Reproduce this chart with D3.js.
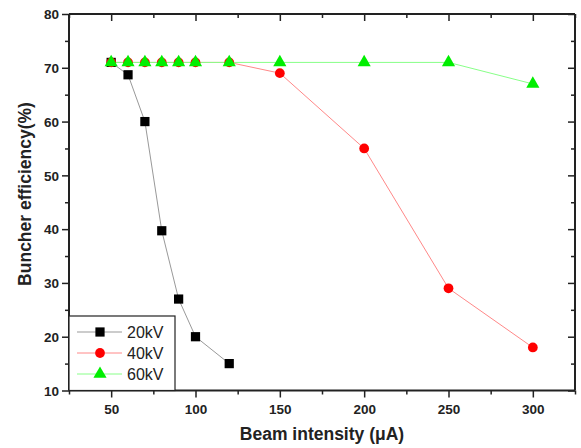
<!DOCTYPE html>
<html>
<head>
<meta charset="utf-8">
<script src="https://cdn.jsdelivr.net/npm/d3@7"></script>
<style>
body { margin:0; background:#fff; }
svg { font-family: Arial, "Liberation Sans", sans-serif; }
</style>
</head>
<body>
<svg id="chart" width="581" height="448"></svg>
<script>
// data
var xs20 = [50, 60, 70, 80, 90, 100, 120];
var ys20 = [71, 68.7, 60, 39.7, 27, 20, 15];
var xs40 = [50, 60, 70, 80, 90, 100, 120, 150, 200, 250, 300];
var ys40 = [71, 71, 71, 71, 71, 71, 71, 69, 55, 29, 18];
var xs60 = [50, 60, 70, 80, 90, 100, 120, 150, 200, 250, 300];
var ys60 = [71, 71, 71, 71, 71, 71, 71, 71, 71, 71, 67];
var seriesNames = ["20kV", "40kV", "60kV"];
var xTicks = [50, 100, 150, 200, 250, 300];
var yTicks = [10, 20, 30, 40, 50, 60, 70, 80];

var svg = d3.select("#chart");
var plotL = 69, plotR = 575, plotT = 14, plotB = 390.5;

var x = d3.scaleLinear().domain([25, 325]).range([plotL, plotR]);
var y = d3.scaleLinear().domain([10, 80]).range([plotB, plotT]);

var xMinor = d3.range(25, 326, 25);
var yMinor = d3.range(10, 81, 5);

// axes (bottom/left ticks outward, top/right ticks inward)
var gx = svg.append("g").attr("transform", "translate(0," + plotB + ")")
  .call(d3.axisBottom(x).tickValues(xMinor).tickSize(4).tickFormat(""));
gx.selectAll(".tick").filter(d => xTicks.includes(d)).select("line").attr("y2", 7);
gx.selectAll(".tick").filter(d => xTicks.includes(d)).append("text")
  .attr("y", 23).attr("fill", "#222").attr("text-anchor", "middle")
  .style("font-size", "13.5px").style("font-weight", "bold").text(d => d);

var gy = svg.append("g").attr("transform", "translate(" + plotL + ",0)")
  .call(d3.axisLeft(y).tickValues(yMinor).tickSize(4).tickFormat(""));
gy.selectAll(".tick").filter(d => yTicks.includes(d)).select("line").attr("x2", -7);
gy.selectAll(".tick").filter(d => yTicks.includes(d)).append("text")
  .attr("x", -10).attr("dy", "0.35em").attr("fill", "#222").attr("text-anchor", "end")
  .style("font-size", "13.5px").style("font-weight", "bold").text(d => d);

var gt = svg.append("g").attr("transform", "translate(0," + plotT + ")")
  .call(d3.axisBottom(x).tickValues(xMinor).tickSize(4).tickFormat(""));
gt.selectAll(".tick").filter(d => xTicks.includes(d)).select("line").attr("y2", 7);

var gr = svg.append("g").attr("transform", "translate(" + plotR + ",0)")
  .call(d3.axisLeft(y).tickValues(yMinor).tickSize(4).tickFormat(""));
gr.selectAll(".tick").filter(d => yTicks.includes(d)).select("line").attr("x2", -7);

[gx, gy, gt, gr].forEach(function(g) {
  g.select(".domain").attr("stroke", "#222").attr("stroke-width", 2);
  g.selectAll(".tick line").attr("stroke", "#222").attr("stroke-width", 1.5);
});
gt.select(".domain").attr("d", "M" + plotL + ",0H" + plotR);
gx.select(".domain").attr("d", "M" + plotL + ",0H" + plotR);
gy.select(".domain").attr("d", "M0," + plotT + "V" + plotB);
gr.select(".domain").attr("d", "M0," + plotT + "V" + plotB);

// titles
svg.append("text").attr("x", 322).attr("y", 440).attr("text-anchor", "middle")
  .style("font-size", "17.5px").style("font-weight", "bold").attr("fill", "#222")
  .text("Beam intensity (\u03bcA)");
svg.append("text").attr("transform", "translate(31,194) rotate(-90)").attr("text-anchor", "middle")
  .style("font-size", "17.5px").style("font-weight", "bold").attr("fill", "#222")
  .text("Buncher efficiency(%)");

var line = d3.line().x(d => x(d[0])).y(d => y(d[1]));
var series = [
  {name: seriesNames[0], pts: d3.zip(xs20, ys20), line: "#999", fill: "#000", shape: d3.symbolSquare, size: 85},
  {name: seriesNames[1], pts: d3.zip(xs40, ys40), line: "#f88", fill: "#f00", shape: d3.symbolCircle, size: 75},
  {name: seriesNames[2], pts: d3.zip(xs60, ys60), line: "#8f8", fill: "#0e0", shape: d3.symbolTriangle, size: 75}
];

series.forEach(function(s) {
  svg.append("path").datum(s.pts).attr("d", line).attr("fill", "none")
    .attr("stroke", s.line).attr("stroke-width", 1);
});
series.forEach(function(s) {
  svg.append("g").selectAll("path").data(s.pts).enter().append("path")
    .attr("transform", d => "translate(" + x(d[0]) + "," + y(d[1]) + ")")
    .attr("d", d3.symbol().type(s.shape).size(s.size)).attr("fill", s.fill);
});

// legend
var lg = svg.append("g");
lg.append("rect").attr("x", plotL).attr("y", 316).attr("width", 106).attr("height", plotB - 316)
  .attr("fill", "#fff").attr("stroke", "#222").attr("stroke-width", 1.2);
series.forEach(function(s, i) {
  var yy = 332 + i * 21;
  lg.append("line").attr("x1", 77).attr("x2", 122).attr("y1", yy).attr("y2", yy)
    .attr("stroke", s.line).attr("stroke-width", 1);
  lg.append("path").attr("transform", "translate(100," + yy + ")")
    .attr("d", d3.symbol().type(s.shape).size(s.size)).attr("fill", s.fill);
  lg.append("text").attr("x", 127).attr("y", yy).attr("dy", "0.36em")
    .style("font-size", "16px").attr("fill", "#222").text(s.name);
});
</script>
</body>
</html>
